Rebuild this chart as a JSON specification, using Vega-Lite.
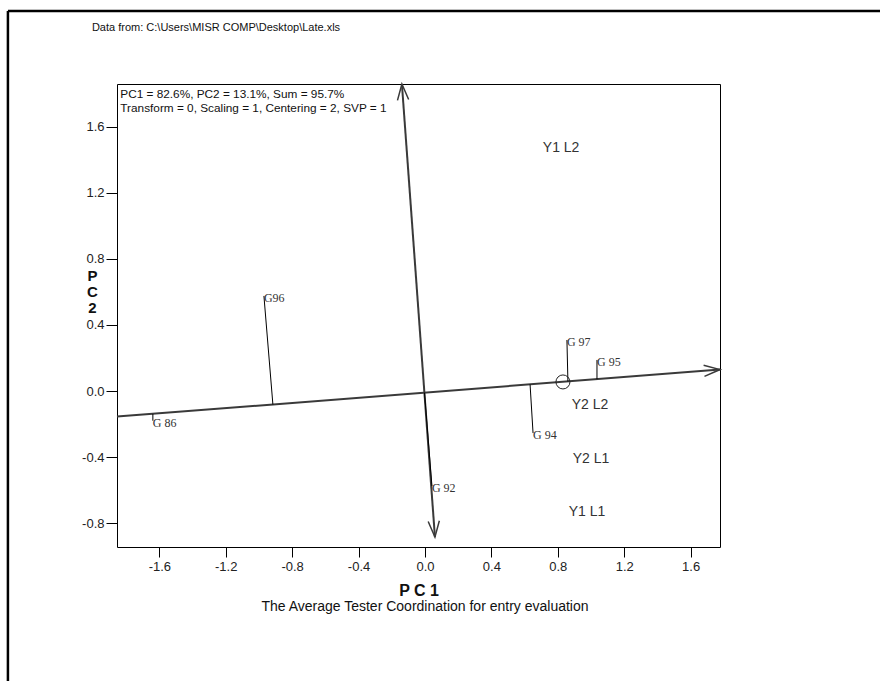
{
  "$schema": "https://vega.github.io/schema/vega-lite/v6.json",
  "width": 603,
  "height": 463,
  "autosize": {"type": "none"},
  "padding": {"left": 117, "top": 84, "right": 160, "bottom": 134},
  "background": "white",
  "config": {"view": {"stroke": "#000", "strokeWidth": 1}, "font": "Liberation Sans"},
  "datasets": {
    "axes": [
      {"vector": "PC1 axis", "x": -1.855, "y": -0.155, "x2": 1.777, "y2": 0.13},
      {"vector": "Average axis", "x": -0.139, "y": 1.86, "x2": 0.06, "y2": -0.885}
    ],
    "gens": [
      {"name": "G96", "x": -0.970, "y": 0.576, "fx": -0.916, "fy": -0.082},
      {"name": "G 86", "x": -1.639, "y": -0.18, "fx": -1.639, "fy": -0.139},
      {"name": "G 97", "x": 0.855, "y": 0.309, "fx": 0.861, "fy": 0.058},
      {"name": "G 95", "x": 1.036, "y": 0.188, "fx": 1.036, "fy": 0.072},
      {"name": "G 94", "x": 0.651, "y": -0.255, "fx": 0.633, "fy": 0.040},
      {"name": "G 92", "x": 0.042, "y": -0.576, "fx": -0.003, "fy": -0.010}
    ],
    "envs": [
      {"name": "Y1 L2", "x": 0.82, "y": 1.47},
      {"name": "Y2 L2", "x": 0.994, "y": -0.085},
      {"name": "Y2 L1", "x": 1.0, "y": -0.41},
      {"name": "Y1 L1", "x": 0.976, "y": -0.733}
    ],
    "notes": [
      {"note": "PC1 = 82.6%, PC2 = 13.1%, Sum = 95.7%", "x": -1.835, "y": 1.80},
      {"note": "Transform = 0, Scaling = 1, Centering = 2, SVP = 1", "x": -1.835, "y": 1.712}
    ],
    "border": [
      {"x": -2.512, "y": 2.303, "x2": 2.8, "y2": 2.303},
      {"x": -2.512, "y": 2.303, "x2": -2.512, "y2": -1.8}
    ]
  },
  "layer": [
    {
      "data": {"name": "axes"},
      "mark": {"type": "rule", "color": "#3a3a3a", "strokeWidth": 2},
      "encoding": {
        "x": {
          "field": "x", "type": "quantitative",
          "scale": {"domain": [-1.855, 1.777], "nice": false, "zero": false},
          "axis": {
            "values": [-1.6, -1.2, -0.8, -0.4, 0, 0.4, 0.8, 1.2, 1.6],
            "format": ".1f", "labelExpr": "replace(datum.label, '\u2212', '-')",
            "grid": false, "domain": false,
            "tickColor": "#000", "tickSize": 10, "labelPadding": 3,
            "labelFontSize": 13, "labelColor": "#222", "labelFont": "Liberation Sans",
            "title": "P C 1", "titleFontSize": 16, "titleFontWeight": "bold",
            "titleColor": "#111", "titleBaseline": "middle", "titleY": 43
          }
        },
        "y": {
          "field": "y", "type": "quantitative",
          "scale": {"domain": [-0.945, 1.86], "nice": false, "zero": false},
          "axis": {
            "values": [-0.8, -0.4, 0, 0.4, 0.8, 1.2, 1.6],
            "format": ".1f", "labelExpr": "replace(datum.label, '\u2212', '-')",
            "grid": false, "domain": false,
            "tickColor": "#000", "tickSize": 11, "labelPadding": 2,
            "labelFontSize": 13, "labelColor": "#222", "labelFont": "Liberation Sans",
            "title": ["P", "C", "2"], "titleAngle": 0, "titleAlign": "center",
            "titleBaseline": "top", "titleX": -25, "titleY": 184,
            "titleLineHeight": 16, "titleFontSize": 15, "titleFontWeight": "bold",
            "titleColor": "#111"
          }
        },
        "x2": {"field": "x2"},
        "y2": {"field": "y2"}
      }
    },
    {
      "data": {"name": "gens"},
      "mark": {"type": "rule", "color": "#000", "strokeWidth": 1},
      "encoding": {
        "x": {"field": "x", "type": "quantitative"},
        "y": {"field": "y", "type": "quantitative"},
        "x2": {"field": "fx"},
        "y2": {"field": "fy"}
      }
    },
    {
      "data": {"name": "gens"},
      "mark": {"type": "text", "align": "left", "baseline": "top", "dy": -3, "font": "Liberation Serif", "fontSize": 12, "color": "#333"},
      "encoding": {
        "x": {"field": "x", "type": "quantitative"},
        "y": {"field": "y", "type": "quantitative"},
        "text": {"field": "name"}
      }
    },
    {
      "data": {"name": "envs"},
      "mark": {"type": "text", "align": "center", "baseline": "middle", "fontSize": 14, "color": "#333"},
      "encoding": {
        "x": {"field": "x", "type": "quantitative"},
        "y": {"field": "y", "type": "quantitative"},
        "text": {"field": "name"}
      }
    },
    {
      "data": {"name": "notes"},
      "mark": {"type": "text", "align": "left", "baseline": "middle", "fontSize": 11.8, "color": "#111"},
      "encoding": {
        "x": {"field": "x", "type": "quantitative"},
        "y": {"field": "y", "type": "quantitative"},
        "text": {"field": "note"}
      }
    },
    {
      "data": {"name": "border"},
      "mark": {"type": "rule", "color": "#000", "strokeWidth": 2.5},
      "encoding": {
        "x": {"field": "x", "type": "quantitative"},
        "y": {"field": "y", "type": "quantitative"},
        "x2": {"field": "x2"},
        "y2": {"field": "y2"}
      }
    },
    {
      "data": {"values": [{"label": "Data from: C:\\Users\\MISR COMP\\Desktop\\Late.xls", "x": -2.006, "y": 2.2}]},
      "mark": {"type": "text", "align": "left", "baseline": "middle", "fontSize": 11, "color": "#111"},
      "encoding": {
        "x": {"field": "x", "type": "quantitative"},
        "y": {"field": "y", "type": "quantitative"},
        "text": {"field": "label"}
      }
    },
    {
      "data": {"values": [{"label": "The Average Tester Coordination for entry evaluation", "x": 0, "y": -1.31}]},
      "mark": {"type": "text", "align": "center", "baseline": "middle", "fontSize": 14, "color": "#111"},
      "encoding": {
        "x": {"field": "x", "type": "quantitative"},
        "y": {"field": "y", "type": "quantitative"},
        "text": {"field": "label"}
      }
    },
    {
      "data": {"values": [{"x": 0.831, "y": 0.055}]},
      "mark": {"type": "point", "shape": "circle", "filled": false, "size": 196, "color": "#222", "strokeWidth": 1, "opacity": 1},
      "encoding": {
        "x": {"field": "x", "type": "quantitative"},
        "y": {"field": "y", "type": "quantitative"}
      }
    },
    {
      "data": {"values": [{"x": 1.777, "y": 0.13}]},
      "mark": {"type": "point", "shape": "M-1,-0.35L0,0L-1,0.35", "filled": false, "size": 1024, "angle": -4.5, "color": "#3a3a3a", "strokeWidth": 1.5, "opacity": 1},
      "encoding": {
        "x": {"field": "x", "type": "quantitative"},
        "y": {"field": "y", "type": "quantitative"}
      }
    },
    {
      "data": {"values": [{"x": -0.139, "y": 1.86}]},
      "mark": {"type": "point", "shape": "M-1,-0.35L0,0L-1,0.35", "filled": false, "size": 1024, "angle": -94.2, "color": "#3a3a3a", "strokeWidth": 1.5, "opacity": 1},
      "encoding": {
        "x": {"field": "x", "type": "quantitative"},
        "y": {"field": "y", "type": "quantitative"}
      }
    },
    {
      "data": {"values": [{"x": 0.06, "y": -0.885}]},
      "mark": {"type": "point", "shape": "M-1,-0.35L0,0L-1,0.35", "filled": false, "size": 1024, "angle": 85.8, "color": "#3a3a3a", "strokeWidth": 1.5, "opacity": 1},
      "encoding": {
        "x": {"field": "x", "type": "quantitative"},
        "y": {"field": "y", "type": "quantitative"}
      }
    }
  ]
}
